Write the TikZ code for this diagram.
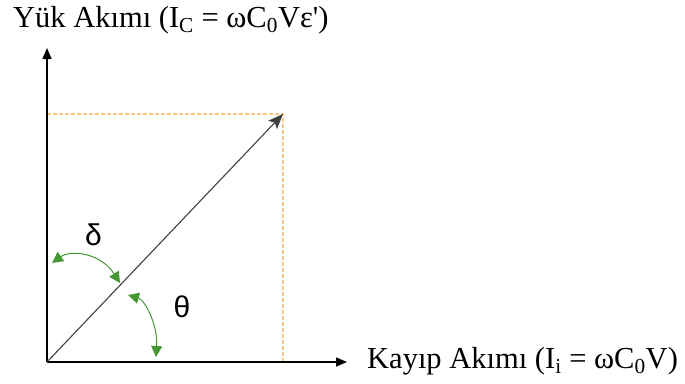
\documentclass[tikz,border=0pt]{standalone}
\usepackage{fontspec}
\setmainfont{Liberation Serif}
\newfontfamily\anglefont{Liberation Sans}
\usetikzlibrary{arrows.meta}

\begin{document}
\begin{tikzpicture}[x=1pt, y=-1pt,
    axis/.style={-{Triangle[length=11pt, width=9pt]}, line width=1.5pt},
    vec/.style={-{Stealth[length=15pt, width=12pt, inset=3pt]}, line width=1.1pt, black!75},
    proj/.style={line width=1.2pt, draw={rgb,255:red,246;green,200;blue,130}, dash pattern=on 3.5pt off 2.5pt},
    ang/.style={{Triangle[length=11pt, width=11pt]}-{Triangle[length=11pt, width=11pt]}, line width=1pt, draw={rgb,255:red,70;green,150;blue,50}},
    lbl/.style={font=\fontsize{30.5}{33}\selectfont, inner sep=0pt},
    grk/.style={font=\anglefont\fontsize{30}{32}\selectfont, inner sep=0pt}
]
\useasboundingbox (0,0) rectangle (685,383);

% axes and vector
\coordinate (O) at (47,362);
\coordinate (ytop) at (47,48);
\coordinate (xend) at (347,362);
\coordinate (P) at (283,114);
\coordinate (Py) at (47,114);
\coordinate (Px) at (283,362);

\draw[proj] (Py) -- (P) -- (Px);
\draw[axis] (O) -- (ytop);
\draw[axis] (O) -- (xend);
\draw[vec] (O) -- (P);

\node[lbl, anchor=base west] (ylbl) at (13,27.3) {Yük Akımı (I\textsubscript{C} = ωC\textsubscript{0}Vε\textquotesingle)};
\node[lbl, anchor=base west] (xlbl) at (367,368) {Kayıp Akımı (I\textsubscript{i} = ωC\textsubscript{0}V)};

% angles
\coordinate (d1) at (52,263);
\coordinate (d2) at (120,283);
\coordinate (t1) at (128,295);
\coordinate (t2) at (156,357);
\draw[ang] (d1) .. controls (70,250) and (100,252) .. (d2);
\draw[ang] (t1) .. controls (145,300) and (158,325) .. (t2);
\node[grk] (delta) at (93.5,235) {δ};
\node[grk] (theta) at (182,307) {θ};
\end{tikzpicture}
\end{document}
